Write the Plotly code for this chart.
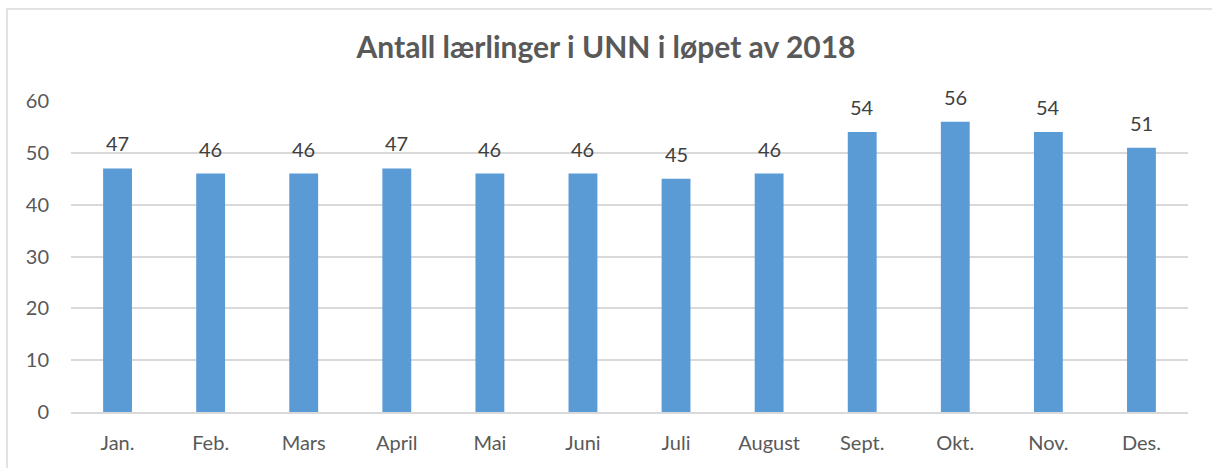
import plotly.graph_objects as go

months = ["Jan.", "Feb.", "Mars", "April", "Mai", "Juni", "Juli", "August", "Sept.", "Okt.", "Nov.", "Des."]
values = [47, 46, 46, 47, 46, 46, 45, 46, 54, 56, 54, 51]
yticks = [0, 10, 20, 30, 40, 50, 60]

FONT = "Lato, Open Sans, sans-serif"

fig = go.Figure()
fig.add_trace(go.Bar(
    x=months, y=values,
    marker=dict(color="#5B9BD5", line=dict(width=0)),
    width=0.31,
))

for m, v in zip(months, values):
    fig.add_annotation(x=m, y=v, text=str(v), showarrow=False, yshift=25,
                       yanchor="middle", xanchor="center",
                       font=dict(family=FONT, size=20, color="#404040"))

fig.update_layout(
    width=1212, height=468,
    margin=dict(l=71, r=24, t=101, b=56),
    paper_bgcolor="white", plot_bgcolor="white",
    title=dict(text="<b>Antall lærlinger i UNN i løpet av 2018</b>",
               x=0.5, xanchor="center", y=1 - 47/468, yanchor="middle",
               xref="container", yref="container",
               font=dict(family=FONT, size=30, color="#595959")),
    showlegend=False,
    font=dict(family=FONT, size=20, color="#595959"),
)
fig.update_xaxes(showgrid=False, showline=True, linecolor="#D9D9D9", linewidth=1.5,
                 ticks="", tickfont=dict(size=20, color="#595959"), ticklabelstandoff=12)
fig.update_yaxes(range=[0, 60], tickvals=yticks, showgrid=True, gridcolor="#D9D9D9",
                 gridwidth=1.5, zeroline=False, showline=False, ticks="",
                 tickfont=dict(size=20, color="#595959"), ticklabelstandoff=21)

fig.add_shape(type="rect", xref="paper", yref="paper",
              x0=-64/1117, x1=1.1, y0=-0.5, y1=1 + 92/311,
              line=dict(color="#D9D9D9", width=1.5), fillcolor="rgba(0,0,0,0)", layer="below")

fig.write_html("out.html", config={"displayModeBar": False},
               post_script="document.body.style.margin='0';document.body.style.padding='0';")
